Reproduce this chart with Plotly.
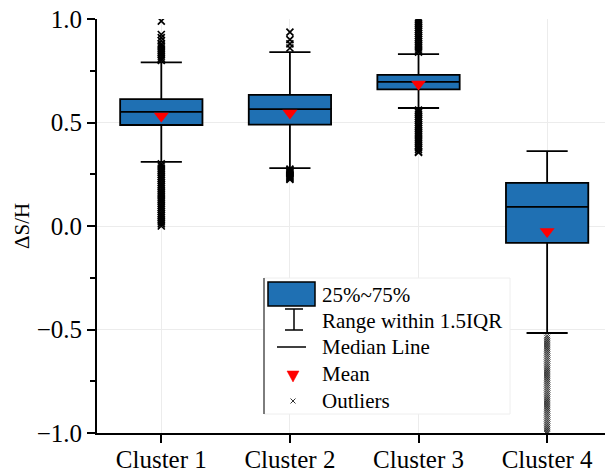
import plotly.graph_objects as go

# ---------------- data ----------------
categories = ["Cluster 1", "Cluster 2", "Cluster 3", "Cluster 4"]
q1 = [0.488, 0.49, 0.66, -0.082]
medians = [0.551, 0.565, 0.696, 0.092]
q3 = [0.613, 0.633, 0.73, 0.208]
lower_whisker = [0.31, 0.28, 0.57, -0.517]
upper_whisker = [0.79, 0.84, 0.83, 0.362]
means = [0.532, 0.546, 0.686, -0.027]

outliers_c1 = [0.00, 0.01, 0.02, 0.03, 0.04, 0.05, 0.06, 0.07, 0.08, 0.09,
               0.10, 0.11, 0.12, 0.13, 0.14, 0.15, 0.16, 0.17, 0.18, 0.19,
               0.20, 0.21, 0.22, 0.23, 0.24, 0.25, 0.26, 0.27, 0.28, 0.29,
               0.30, 0.80, 0.81, 0.82, 0.83, 0.84, 0.85, 0.86, 0.87, 0.88,
               0.895, 0.91, 0.925, 0.99]
outliers_c2 = [0.225, 0.23, 0.235, 0.24, 0.245, 0.25, 0.255, 0.26, 0.265,
               0.27, 0.275, 0.86, 0.88, 0.90, 0.937]
outliers_c3 = [0.355, 0.36, 0.37, 0.38, 0.39, 0.40, 0.41, 0.42, 0.43, 0.44,
               0.45, 0.46, 0.47, 0.48, 0.49, 0.50, 0.51, 0.52, 0.53, 0.54,
               0.55, 0.56, 0.84, 0.85, 0.86, 0.87, 0.88, 0.89, 0.90, 0.91,
               0.92, 0.93, 0.94, 0.95, 0.96, 0.97, 0.98, 0.99, 1.00]
outliers_c4 = [-1.00, -0.99, -0.98, -0.97, -0.96, -0.95, -0.94, -0.93, -0.92,
               -0.91, -0.90, -0.89, -0.88, -0.87, -0.86, -0.85, -0.84, -0.83,
               -0.82, -0.81, -0.80, -0.79, -0.78, -0.77, -0.76, -0.75, -0.74,
               -0.73, -0.72, -0.71, -0.70, -0.69, -0.68, -0.67, -0.66, -0.65,
               -0.64, -0.63, -0.62, -0.61, -0.60, -0.59, -0.58, -0.57, -0.56,
               -0.55, -0.54, -0.53]
outlier_lists = [outliers_c1, outliers_c2, outliers_c3, outliers_c4]

legend_labels = ["25%~75%", "Range within 1.5IQR", "Median Line", "Mean", "Outliers"]

# ---------------- style ----------------
BLUE = "#1f70b3"
FONT = "Liberation Serif"
W, H = 605, 473
ML, MT, MB, MR = 97, 19, 40, 0
PW, PH = W - ML - MR, H - MT - MB

fig = go.Figure()

for i, cat in enumerate(categories):
    fig.add_trace(go.Box(
        x=[cat], q1=[q1[i]], median=[medians[i]], q3=[q3[i]],
        lowerfence=[lower_whisker[i]], upperfence=[upper_whisker[i]],
        boxpoints=False, width=0.64, whiskerwidth=0.5,
        fillcolor=BLUE, line=dict(color="black", width=1.8),
        showlegend=False, hoverinfo="skip",
    ))

for i, cat in enumerate(categories):
    vals = outlier_lists[i]
    fig.add_trace(go.Scatter(
        x=[cat] * len(vals), y=vals, mode="markers",
        marker=dict(symbol="x-thin", size=7 if i < 3 else 6, color="black",
                    line=dict(color="black", width=1.7 if i < 3 else 1.0)),
        opacity=1.0 if i < 3 else 0.8,
        showlegend=False, hoverinfo="skip",
    ))

fig.add_trace(go.Scatter(
    x=categories, y=means, mode="markers",
    marker=dict(symbol="triangle-down", size=13, color="red", line=dict(width=0)),
    showlegend=False, hoverinfo="skip",
))


def px(x):
    return (x - ML) / PW


def py(y):
    return (MT + PH - y) / PH


def seg(x0, y0, x1, y1, color="black", width=1.5):
    return dict(type="line", xref="paper", yref="paper",
                x0=px(x0), x1=px(x1), y0=py(y0), y1=py(y1),
                line=dict(color=color, width=width), layer="above")


shapes = []
annotations = []
# legend background
shapes.append(dict(type="rect", xref="paper", yref="paper",
                   x0=px(264), x1=px(510), y0=py(414), y1=py(278),
                   fillcolor="white", line=dict(color="#eeeeee", width=1), layer="above"))
shapes.append(seg(264, 414, 264, 278, color="#555555", width=1.5))
# box symbol
shapes.append(dict(type="rect", xref="paper", yref="paper",
                   x0=px(268), x1=px(315), y0=py(306), y1=py(282),
                   fillcolor=BLUE, line=dict(color="black", width=1.5), layer="above"))
# I-bar
shapes.append(seg(294, 330, 294, 309))
shapes.append(seg(285, 309, 303, 309))
shapes.append(seg(285, 330, 303, 330))
# median line
shapes.append(seg(277, 347, 306, 347))
# mean triangle
tri = "M {:.5f},{:.5f} L {:.5f},{:.5f} L {:.5f},{:.5f} Z".format(
    px(287), py(371), px(299), py(371), px(293), py(382))
shapes.append(dict(type="path", xref="paper", yref="paper", path=tri,
                   fillcolor="red", line=dict(color="red", width=0.5), layer="above"))
# outlier symbol (small x)
shapes.append(seg(290.5, 398.5, 295.5, 403.5, color="#333333", width=1))
shapes.append(seg(290.5, 403.5, 295.5, 398.5, color="#333333", width=1))

row_y = [295, 321, 347, 374, 401]
for lbl, yy in zip(legend_labels, row_y):
    annotations.append(dict(text=lbl, xref="paper", yref="paper", x=px(320), y=py(yy),
                            showarrow=False, xanchor="left", yanchor="middle",
                            font=dict(family=FONT, size=21, color="black")))

annotations.append(dict(text="ΔS/H", xref="paper", yref="paper", x=px(22), y=py(226),
                        showarrow=False, textangle=-90, xanchor="center", yanchor="middle",
                        font=dict(family=FONT, size=21, color="black")))

fig.update_layout(
    width=W, height=H,
    margin=dict(l=ML, r=MR, t=MT, b=MB, autoexpand=False),
    paper_bgcolor="white", plot_bgcolor="white",
    font=dict(family=FONT, color="black"),
    shapes=shapes, annotations=annotations,
    showlegend=False,
)
fig.update_xaxes(
    type="category", range=[-0.5, 3.45], automargin=False,
    showline=True, linecolor="black", linewidth=1.8,
    ticks="outside", ticklen=8, tickwidth=1.5, tickcolor="black",
    ticklabelstandoff=-5,
    showgrid=True, gridcolor="#ececec", gridwidth=1,
    tickfont=dict(family=FONT, size=25, color="black"),
    zeroline=False,
)
fig.update_yaxes(
    range=[-1, 1], tickvals=[-1, -0.5, 0, 0.5, 1], tickformat=".1f", automargin=False,
    showline=True, linecolor="black", linewidth=1.8,
    ticks="outside", ticklen=8, tickwidth=1.5, tickcolor="black",
    minor=dict(tickvals=[-0.75, -0.25, 0.25, 0.75], ticks="outside", ticklen=5,
               tickwidth=1.5, tickcolor="black", showgrid=False),
    showgrid=True, gridcolor="#ececec", gridwidth=1,
    tickfont=dict(family=FONT, size=25, color="black"),
    zeroline=False,
)

fig.write_html("out.html", config={"displayModeBar": False},
               post_script="document.body.style.margin='0px';document.body.style.overflow='hidden';")
